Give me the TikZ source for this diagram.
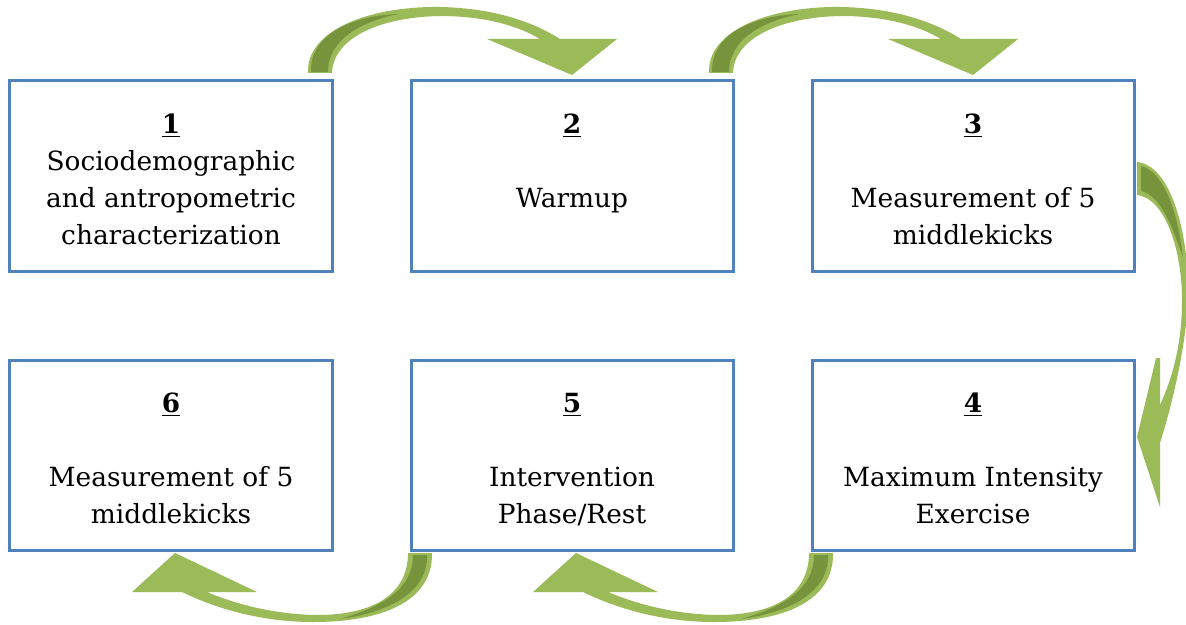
\documentclass[tikz,border=0pt]{standalone}
\usepackage{fontspec}
\setmainfont{DejaVu Serif}
\usetikzlibrary{matrix}

\definecolor{stepblue}{HTML}{4F81BD}
\definecolor{bendgreen}{HTML}{9BBB59}
\definecolor{benddark}{HTML}{77933C}
\newcommand{\stepfont}{\fontsize{13.2}{18.5}\selectfont}
\newcommand{\steptext}[4]{\strut\underline{\textbf{#1}}\\#2\\#3\\\smash{#4}}

\begin{document}
\begin{tikzpicture}[x=0.5pt,y=-0.5pt,
box/.style={draw=stepblue,line width=1.5pt,minimum width=161pt,minimum height=95pt,inner sep=0pt,outer sep=0pt,align=center,font=\stepfont},
bendarrow/.style={fill=bendgreen},
bendshade/.style={fill=benddark}]

\useasboundingbox (0,0) rectangle (1186,625);

\matrix (steps) [column sep=38pt,%
   row sep=43pt] at (572,315.5) {
 \node[box] (step1) {\steptext{1}{Sociodemographic}{and antropometric}{characterization}}; &
 \node[box] (step2) {\steptext{2}{\mbox{}}{Warmup}{\mbox{}}}; &
 \node[box] (step3) {\steptext{3}{\mbox{}}{Measurement of 5}{middlekicks}};\\
 \node[box] (step6) {\steptext{6}{\mbox{}}{Measurement of 5}{middlekicks}}; &
 \node[box] (step5) {\steptext{5}{\mbox{}}{Intervention}{Phase/Rest}}; &
 \node[box] (step4) {\steptext{4}{\mbox{}}{Maximum Intensity}{Exercise}};\\
};

\foreach \s in {step1,step2}{
  \begin{scope}[shift={(\s.north east)}]
    \fill[bendarrow] (-24,-8) .. controls (-26,-51) and (38,-75) .. (108,-74) .. controls (158,-73) and (198,-61) .. (228,-42) -- (285,-42) -- (240,-6) -- (155,-42) -- (208,-42) .. controls (183,-57) and (148,-65) .. (108,-65) .. controls (48,-64) and (1,-43) .. (0,-8) -- cycle;
    \fill[bendshade] (-21,-9) .. controls (-22,-46) and (18,-65) .. (66,-67) .. controls (28,-59) and (-4,-41) .. (-4,-9) -- cycle;
  \end{scope}
}

\begin{scope}[shift={(step3.east)}]
  \fill[bendarrow] (3,-14) .. controls (36,-11) and (54,54) .. (54,114) .. controls (54,164) and (38,229) .. (26,267) -- (26,331) -- (3,261) -- (22,182) -- (26,182) -- (26,229) .. controls (42,194) and (48,159) .. (48,124) .. controls (48,74) and (31,22) .. (3,19) -- cycle;
  \fill[bendshade] (7,-10) .. controls (31,-4) and (44,39) .. (49,82) .. controls (38,49) and (26,19) .. (7,15) -- cycle;
\end{scope}

\foreach \s in {step5,step4}{
  \begin{scope}[shift={(\s.south west)}]
    \fill[bendarrow] (21,3) .. controls (22,50) and (-26,72) .. (-98,72) .. controls (-151,72) and (-196,58) .. (-229,42) -- (-279,42) -- (-236,3) -- (-154,42) -- (-204,42) .. controls (-171,56) and (-131,65) .. (-91,65) .. controls (-31,64) and (-3,40) .. (-3,3) -- cycle;
    \fill[bendshade] (16,5) .. controls (17,42) and (-21,62) .. (-71,69) .. controls (-26,56) and (2,38) .. (2,5) -- cycle;
  \end{scope}
}

\end{tikzpicture}
\end{document}
